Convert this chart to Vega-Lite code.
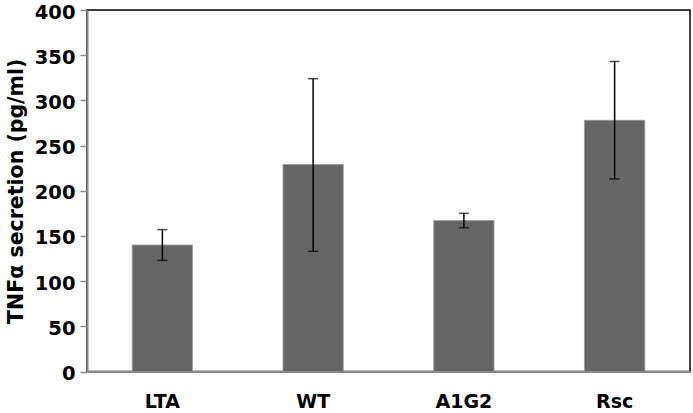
{
  "$schema": "https://vega.github.io/schema/vega-lite/v6.json",
  "width": 603,
  "height": 361.5,
  "autosize": {"type": "none"},
  "padding": {"left": 87, "top": 10, "right": 3, "bottom": 41.5},
  "background": "white",
  "config": {
    "font": "DejaVu Sans",
    "view": {"stroke": "black", "strokeWidth": 1.5},
    "axis": {"grid": false}
  },
  "data": {
    "values": [
      {"group": "LTA", "value": 140, "lo": 123, "hi": 157},
      {"group": "WT", "value": 229, "lo": 133, "hi": 324},
      {"group": "A1G2", "value": 167, "lo": 159, "hi": 175},
      {"group": "Rsc", "value": 278, "lo": 213, "hi": 343}
    ]
  },
  "encoding": {
    "x": {
      "field": "group",
      "type": "nominal",
      "sort": null,
      "scale": {"paddingInner": 0.6, "paddingOuter": 0.3},
      "axis": {
        "title": null,
        "labelAngle": 0,
        "labelFont": "DejaVu Sans",
        "labelFontWeight": "bold",
        "labelFontSize": 19,
        "labelColor": "black",
        "labelPadding": 21,
        "ticks": false,
        "domainColor": "#888888",
        "domainWidth": 2,
        "zindex": 1
      }
    }
  },
  "layer": [
    {
      "mark": {"type": "bar", "color": "#666666", "stroke": "#9a9a9a", "strokeWidth": 0.8},
      "encoding": {
        "y": {
          "field": "value",
          "type": "quantitative",
          "scale": {"domain": [0, 400], "nice": false},
          "axis": {
            "title": "TNFα secretion (pg/ml)",
            "titleFont": "DejaVu Sans",
            "titleFontWeight": "bold",
            "titleFontSize": 20.5,
            "titleColor": "black",
            "titlePadding": 8,
            "values": [0, 50, 100, 150, 200, 250, 300, 350, 400],
            "labelFont": "DejaVu Sans",
            "labelFontWeight": "bold",
            "labelFontSize": 19.5,
            "labelColor": "black",
            "labelPadding": 5,
            "labelOffset": 2,
            "tickSize": 7,
            "tickColor": "#888888",
            "tickWidth": 1.5,
            "domainColor": "#888888",
            "domainWidth": 2,
            "zindex": 1
          }
        }
      }
    },
    {
      "mark": {"type": "rule", "color": "black", "strokeWidth": 1.5},
      "encoding": {
        "y": {"field": "lo", "type": "quantitative"},
        "y2": {"field": "hi"}
      }
    },
    {
      "mark": {"type": "tick", "color": "black", "thickness": 1.5, "size": 10},
      "encoding": {"y": {"field": "lo", "type": "quantitative"}}
    },
    {
      "mark": {"type": "tick", "color": "black", "thickness": 1.5, "size": 10},
      "encoding": {"y": {"field": "hi", "type": "quantitative"}}
    }
  ]
}
